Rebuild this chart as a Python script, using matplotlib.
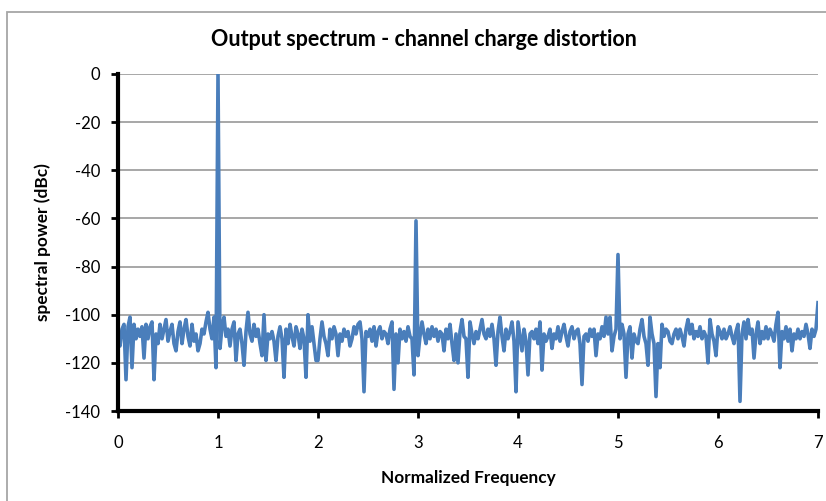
import numpy as np
import matplotlib
matplotlib.use('Agg')
import matplotlib.pyplot as plt
from matplotlib.patches import Rectangle

plt.rcParams['font.family'] = ['Lato', 'DejaVu Sans']
plt.rcParams['axes.unicode_minus'] = False

# ---- data: spectral power (dBc) sampled every 0.02 of normalized frequency ----
step = 0.02
seg0 = [-109, -113, -106, -104, -127, -105, -101, -122, -104, -110,
        -106, -109, -105, -118, -104, -110, -105, -103, -127, -108,
        -112, -104, -110, -106, -102, -111, -107, -104, -112, -115,
        -107, -103, -112, -106, -102, -109, -113, -104, -111, -108,
        -115, -112, -106, -108, -103, -99, -106, -110, -101, -122]
seg1 = [0, -114, -105, -101, -109, -106, -113, -106, -103, -119,
        -108, -106, -112, -121, -107, -99, -108, -111, -104, -109,
        -106, -112, -117, -100, -119, -108, -110, -107, -111, -119,
        -109, -105, -110, -126, -106, -112, -104, -109, -113, -105,
        -108, -114, -106, -110, -126, -100, -111, -105, -112, -119]
seg2 = [-119, -110, -103, -109, -112, -117, -106, -110, -105, -108,
        -117, -108, -111, -106, -109, -107, -113, -110, -105, -108,
        -104, -103, -110, -132, -107, -109, -106, -111, -105, -113,
        -107, -105, -110, -107, -108, -112, -106, -103, -131, -108,
        -120, -106, -110, -107, -111, -105, -109, -110, -125, -61]
seg3 = [-117, -109, -103, -108, -112, -106, -110, -105, -109, -106,
        -111, -107, -108, -115, -106, -110, -104, -112, -119, -108,
        -120, -107, -102, -109, -110, -126, -103, -108, -112, -107,
        -110, -106, -102, -108, -110, -106, -109, -104, -110, -121,
        -107, -101, -109, -115, -106, -110, -107, -103, -111, -132]
seg4 = [-103, -109, -115, -106, -111, -125, -108, -107, -110, -106,
        -112, -103, -123, -108, -111, -109, -106, -114, -108, -110,
        -105, -111, -107, -104, -109, -113, -107, -105, -110, -107,
        -106, -112, -129, -109, -108, -111, -106, -109, -106, -117,
        -108, -110, -105, -109, -101, -108, -101, -115, -109, -106]
seg5 = [-75, -110, -104, -108, -126, -108, -105, -118, -108, -111,
        -112, -106, -102, -109, -112, -121, -101, -108, -112, -134,
        -112, -122, -104, -109, -106, -107, -111, -112, -108, -106,
        -110, -106, -109, -113, -106, -102, -108, -104, -110, -107,
        -109, -105, -110, -107, -109, -120, -102, -108, -111, -117]
seg6 = [-105, -107, -110, -106, -110, -108, -105, -109, -112, -107,
        -104, -136, -108, -103, -110, -102, -108, -106, -118, -108,
        -103, -112, -107, -110, -105, -110, -106, -108, -111, -104,
        -99, -122, -107, -110, -105, -111, -106, -115, -108, -110,
        -106, -110, -107, -109, -104, -108, -114, -106, -109, -106]
last_point = [-95]

power = seg0 + seg1 + seg2 + seg3 + seg4 + seg5 + seg6 + last_point
freq = np.arange(len(power)) * step

y_ticks = [0, -20, -40, -60, -80, -100, -120, -140]
x_ticks = [0, 1, 2, 3, 4, 5, 6, 7]

# ---- plot ----
fig = plt.figure(figsize=(8.26, 5.01), dpi=100)
ax = fig.add_axes([118 / 826, 1 - 411 / 501, 700 / 826, 337 / 501])

# chart frame (Excel style)
fig.patches.append(Rectangle((7 / 826, -0.2), 1.2, 1.2 - 12 / 501,
                             transform=fig.transFigure, fill=False,
                             edgecolor='#a6a6a6', linewidth=1.3))

ax.plot(freq, power, color='#4a7ebb', linewidth=2.6, solid_joinstyle='round')

ax.set_xlim(0, 7)
ax.set_ylim(-140, 0)
ax.set_xticks(x_ticks)
ax.set_yticks(y_ticks)
ax.tick_params(axis='both', labelsize=12, width=2, length=5, color='black')
ax.tick_params(axis='x', pad=12)
ax.tick_params(axis='y', pad=8)
ax.grid(axis='y', color='#a0a0a0', linewidth=1.3)
ax.set_axisbelow(True)

for s in ['top', 'right']:
    ax.spines[s].set_visible(False)
for s in ['left', 'bottom']:
    ax.spines[s].set_linewidth(3)
    ax.spines[s].set_color('black')

fig.text(424 / 826, 1 - 40 / 501, 'Output spectrum - channel charge distortion',
         ha='center', va='center', fontsize=15.5, fontweight='bold')
ax.set_xlabel('Normalized Frequency', fontsize=12.4, fontweight='bold', labelpad=14)
ax.set_ylabel('spectral power (dBc)', fontsize=12.4, fontweight='bold', labelpad=10)

fig.savefig('out.png', dpi=100)
